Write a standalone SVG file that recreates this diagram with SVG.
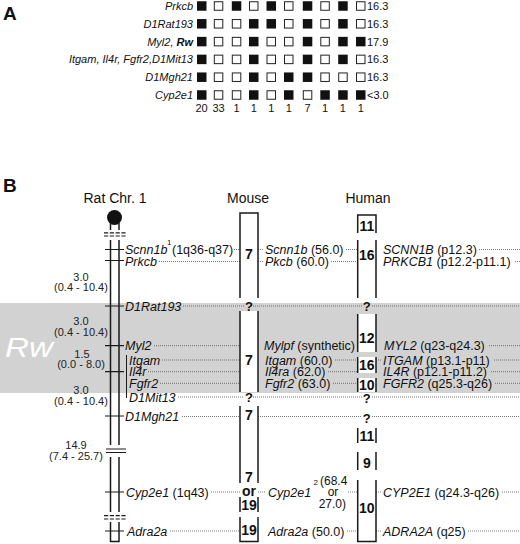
<svg xmlns="http://www.w3.org/2000/svg" width="520" height="544" viewBox="0 0 520 544">
<style>
text{font-family:"Liberation Sans",Arial,sans-serif;fill:#111}
.i{font-style:italic}
.a{font-size:11px}
.ar{font-size:11px;font-style:italic;text-anchor:end}
.m{font-size:12.5px}
.d{font-size:11px;text-anchor:middle;fill:#222}
.n{font-size:14px;font-weight:bold;text-anchor:middle}
.q{font-size:13px;font-weight:bold;text-anchor:middle}
.h{font-size:14px;text-anchor:middle}
.sup{font-size:8px}
.f{fill:#111}
.o{fill:#fff;stroke:#222;stroke-width:1}
.dot{stroke:#555;stroke-width:0.8;stroke-dasharray:1 1;fill:none}
.ln{stroke:#1a1a1a;stroke-width:1.5;fill:none}
.tk{stroke:#1a1a1a;stroke-width:1.2;fill:none}
.dash{stroke:#1a1a1a;stroke-width:1.2;stroke-dasharray:4.2 1.6;fill:none}
.box{fill:#fff;stroke:none}
</style>

<!-- Panel A -->
<g id="panelA">
<text x="3" y="20" style="font-size:19px;font-weight:bold">A</text>
<g id="rowA1">
<text x="193" y="10" class="ar">Prkcb</text>
<rect class="f" x="197" y="1.25" width="9.5" height="9.5"/><rect class="o" x="214.3" y="1.75" width="8.5" height="8.5"/><rect class="f" x="231.8" y="1.25" width="9.5" height="9.5"/><rect class="o" x="249.5" y="1.75" width="8.5" height="8.5"/><rect class="f" x="266.5" y="1.25" width="9.5" height="9.5"/><rect class="o" x="284.5" y="1.75" width="8.5" height="8.5"/><rect class="f" x="302.8" y="1.25" width="9.5" height="9.5"/><rect class="o" x="320.8" y="1.75" width="8.5" height="8.5"/><rect class="f" x="338.2" y="1.25" width="9.5" height="9.5"/><rect class="o" x="356.5" y="1.75" width="8.5" height="8.5"/>
<text x="367" y="10" class="a">16.3</text>
</g>
<g id="rowA2">
<text x="193" y="27.8" class="ar">D1Rat193</text>
<rect class="f" x="197" y="19.05" width="9.5" height="9.5"/><rect class="o" x="214.3" y="19.55" width="8.5" height="8.5"/><rect class="o" x="232.3" y="19.55" width="8.5" height="8.5"/><rect class="f" x="249" y="19.05" width="9.5" height="9.5"/><rect class="f" x="266.5" y="19.05" width="9.5" height="9.5"/><rect class="o" x="284.5" y="19.55" width="8.5" height="8.5"/><rect class="f" x="302.8" y="19.05" width="9.5" height="9.5"/><rect class="o" x="320.8" y="19.55" width="8.5" height="8.5"/><rect class="f" x="338.2" y="19.05" width="9.5" height="9.5"/><rect class="o" x="356.5" y="19.55" width="8.5" height="8.5"/>
<text x="367" y="27.8" class="a">16.3</text>
</g>
<g id="rowA3">
<text x="193" y="45.6" class="ar">Myl2, <tspan style="font-weight:bold">Rw</tspan></text>
<rect class="f" x="197" y="36.85" width="9.5" height="9.5"/><rect class="o" x="214.3" y="37.35" width="8.5" height="8.5"/><rect class="o" x="232.3" y="37.35" width="8.5" height="8.5"/><rect class="f" x="249" y="36.85" width="9.5" height="9.5"/><rect class="o" x="267" y="37.35" width="8.5" height="8.5"/><rect class="o" x="284.5" y="37.35" width="8.5" height="8.5"/><rect class="f" x="302.8" y="36.85" width="9.5" height="9.5"/><rect class="o" x="320.8" y="37.35" width="8.5" height="8.5"/><rect class="f" x="338.2" y="36.85" width="9.5" height="9.5"/><rect class="f" x="356" y="36.85" width="9.5" height="9.5"/>
<text x="367" y="45.6" class="a">17.9</text>
</g>
<g id="rowA4">
<text x="193" y="63.4" class="ar">Itgam, Il4r, Fgfr2,D1Mit13</text>
<rect class="f" x="197" y="54.65" width="9.5" height="9.5"/><rect class="o" x="214.3" y="55.15" width="8.5" height="8.5"/><rect class="o" x="232.3" y="55.15" width="8.5" height="8.5"/><rect class="f" x="249" y="54.65" width="9.5" height="9.5"/><rect class="o" x="267" y="55.15" width="8.5" height="8.5"/><rect class="o" x="284.5" y="55.15" width="8.5" height="8.5"/><rect class="f" x="302.8" y="54.65" width="9.5" height="9.5"/><rect class="o" x="320.8" y="55.15" width="8.5" height="8.5"/><rect class="f" x="338.2" y="54.65" width="9.5" height="9.5"/><rect class="o" x="356.5" y="55.15" width="8.5" height="8.5"/>
<text x="367" y="63.4" class="a">16.3</text>
</g>
<g id="rowA5">
<text x="193" y="81.2" class="ar">D1Mgh21</text>
<rect class="f" x="197" y="72.45" width="9.5" height="9.5"/><rect class="o" x="214.3" y="72.95" width="8.5" height="8.5"/><rect class="o" x="232.3" y="72.95" width="8.5" height="8.5"/><rect class="f" x="249" y="72.45" width="9.5" height="9.5"/><rect class="o" x="267" y="72.95" width="8.5" height="8.5"/><rect class="f" x="284" y="72.45" width="9.5" height="9.5"/><rect class="f" x="302.8" y="72.45" width="9.5" height="9.5"/><rect class="o" x="320.8" y="72.95" width="8.5" height="8.5"/><rect class="o" x="338.7" y="72.95" width="8.5" height="8.5"/><rect class="o" x="356.5" y="72.95" width="8.5" height="8.5"/>
<text x="367" y="81.2" class="a">16.3</text>
</g>
<g id="rowA6">
<text x="193" y="99" class="ar">Cyp2e1</text>
<rect class="f" x="197" y="90.25" width="9.5" height="9.5"/><rect class="o" x="214.3" y="90.75" width="8.5" height="8.5"/><rect class="o" x="232.3" y="90.75" width="8.5" height="8.5"/><rect class="f" x="249" y="90.25" width="9.5" height="9.5"/><rect class="o" x="267" y="90.75" width="8.5" height="8.5"/><rect class="f" x="284" y="90.25" width="9.5" height="9.5"/><rect class="o" x="303.3" y="90.75" width="8.5" height="8.5"/><rect class="f" x="320.3" y="90.25" width="9.5" height="9.5"/><rect class="f" x="338.2" y="90.25" width="9.5" height="9.5"/><rect class="f" x="356" y="90.25" width="9.5" height="9.5"/>
<text x="367" y="99" class="a">&lt;3.0</text>
</g>
<g id="counts">
<text x="201.5" y="111.5" text-anchor="middle" class="a">20</text><text x="218.5" y="111.5" text-anchor="middle" class="a">33</text><text x="236.5" y="111.5" text-anchor="middle" class="a">1</text><text x="253.7" y="111.5" text-anchor="middle" class="a">1</text><text x="271.2" y="111.5" text-anchor="middle" class="a">1</text><text x="288.7" y="111.5" text-anchor="middle" class="a">1</text><text x="307.5" y="111.5" text-anchor="middle" class="a">7</text><text x="325" y="111.5" text-anchor="middle" class="a">1</text><text x="342.9" y="111.5" text-anchor="middle" class="a">1</text><text x="360.7" y="111.5" text-anchor="middle" class="a">1</text>
</g>
</g>

<!-- Panel B -->
<text x="3" y="191.5" style="font-size:19px;font-weight:bold">B</text>
<rect id="rwband" x="0" y="303" width="520" height="90" fill="#d2d2d2"/>
<text x="5" y="357" class="i" style="font-size:28px;fill:#fff" textLength="48" lengthAdjust="spacingAndGlyphs">Rw</text>

<text x="115" y="202.5" class="h">Rat Chr. 1</text>
<text x="248" y="202.5" class="h">Mouse</text>
<text x="368" y="202.5" class="h">Human</text>

<!-- connectors -->
<g id="connectors" class="dot">
<path d="M234 249.5H240M258 249.5H264M346 249.5H357.7M479 249.5H520"/>
<path d="M159 261.5H240M258 261.5H264M331 261.5H357.7M515 261.5H520"/>
<path d="M183 306H244M253 306H362M372 306H520"/>
<path d="M154 345.7H240M489 345.7H520"/>
<path d="M162 360H240M335 360H357.7M376 360H382M494 360H520"/>
<path d="M148 371.7H240M328 371.7H357.7M491 371.7H520"/>
<path d="M160 383.3H240M333 383.3H357.7M495 383.3H520"/>
<path d="M178 397H244M253 397H362M372 397H520"/>
<path d="M182 416.5H240M258 416.5H362M372 416.5H520"/>
<path d="M211 492H240M258 492H266M348 492H357.7M376 492H382M502 492H520"/>
<path d="M170 531H240M347 531H357.7M376 531H382M468 531H520"/>
</g>

<!-- Rat chromosome -->
<g id="ratchr">
<circle cx="114.5" cy="217.5" r="7.5" fill="#111"/>
<path class="ln" d="M110.5 223V230M119 223V230"/>
<path class="dash" d="M104 232.8H126M104 236H126"/>
<path class="ln" d="M110.5 240V445M119 240V445"/>
<path class="tk" d="M106 449H126M106 452.5H126"/>
<path class="ln" d="M110.5 457V512M119 457V512"/>
<path class="dash" d="M104 515.7H126M104 519H126"/>
<path class="ln" d="M110.5 522V541.5H119V522"/>
<path class="tk" d="M105 249.5H124M105 260.5H124M105 306H124M105 345.7H124M105 371.7H124M105 416H124M105 492H124M105 531H124"/>
<path class="tk" style="stroke-width:1" d="M126.5 355V398"/>
</g>

<g id="ratlabels">
<text x="125" y="254" class="m"><tspan class="i">Scnn1b</tspan></text>
<text x="167" y="245" class="sup">1</text>
<text x="172" y="254" class="m">(1q36-q37)</text>
<text x="125" y="266" class="m i">Prkcb</text>
<text x="125" y="310.5" class="m i">D1Rat193</text>
<text x="125" y="350" class="m i">Myl2</text>
<text x="129" y="364.5" class="m i">Itgam</text>
<text x="129" y="376" class="m i">Il4r</text>
<text x="129" y="387.8" class="m i">Fgfr2</text>
<text x="129" y="401.5" class="m i">D1Mit13</text>
<text x="125" y="420.5" class="m i">D1Mgh21</text>
<text x="126" y="496.5" class="m"><tspan class="i">Cyp2e1</tspan> (1q43)</text>
<text x="127" y="535.5" class="m i">Adra2a</text>
</g>

<g id="distances">
<text x="81" y="280.5" class="d">3.0</text><text x="81" y="291" class="d">(0.4 - 10.4)</text>
<text x="81" y="325" class="d">3.0</text><text x="81" y="335.5" class="d">(0.4 - 10.4)</text>
<text x="82" y="357.5" class="d">1.5</text><text x="81" y="367.5" class="d">(0.0 - 8.0)</text>
<text x="81" y="394" class="d">3.0</text><text x="81" y="404.5" class="d">(0.4 - 10.4)</text>
<text x="76" y="449" class="d">14.9</text><text x="76" y="459.5" class="d">(7.4 - 25.7)</text>
</g>

<!-- Mouse column -->
<g id="mouse">
<rect class="box" x="240" y="213" width="18" height="85"/>
<path class="ln" d="M240 298V213H258V298"/>
<text x="249" y="259" class="n">7</text>
<text x="249" y="310.5" class="q">?</text>
<rect class="box" x="240" y="311" width="18" height="81"/>
<path class="ln" d="M240 311V392M258 311V392"/>
<text x="249" y="365" class="n">7</text>
<text x="249" y="402" class="q">?</text>
<rect class="box" x="240" y="406" width="18" height="77"/>
<path class="ln" d="M240 406V483M258 406V483"/>
<text x="249" y="420" class="n">7</text>
<text x="249" y="482" class="n">7</text>
<text x="249" y="496" class="n">or</text>
<path class="ln" d="M240 497V512M258 497V512"/>
<text x="249" y="510" class="n">19</text>
<path class="ln" d="M240 517V541.5H258V517"/>
<text x="249" y="535" class="n">19</text>
</g>

<g id="mouselabels">
<text x="265" y="254" class="m"><tspan class="i">Scnn1b</tspan> (56.0)</text>
<text x="265" y="266" class="m"><tspan class="i">Pkcb</tspan> (60.0)</text>
<text x="264" y="350" class="m"><tspan class="i">Mylpf</tspan> (synthetic)</text>
<text x="265" y="364.5" class="m"><tspan class="i">Itgam</tspan> (60.0)</text>
<text x="265" y="376" class="m"><tspan class="i">Il4ra</tspan> (62.0)</text>
<text x="265" y="388" class="m"><tspan class="i">Fgfr2</tspan> (63.0)</text>
<text x="268" y="496.5" class="m i">Cyp2e1</text>
<text x="313.5" y="485" class="sup">2</text>
<text x="320" y="485" class="m" style="font-size:12px">(68.4</text>
<text x="333" y="496" class="m" text-anchor="middle" style="font-size:12px">or</text>
<text x="346" y="507.5" class="m" text-anchor="end" style="font-size:12px">27.0)</text>
<text x="268" y="535.5" class="m"><tspan class="i">Adra2a</tspan> (50.0)</text>
</g>

<!-- Human column -->
<g id="human">
<rect class="box" x="357.7" y="215" width="18.3" height="18"/>
<path class="ln" d="M357.7 233V215H376V233"/>
<text x="366.8" y="231" class="n">11</text>
<rect class="box" x="357.7" y="240" width="18.3" height="58"/>
<path class="ln" d="M357.7 240V298M376 240V298"/>
<text x="366.8" y="260" class="n">16</text>
<text x="366.8" y="311" class="q">?</text>
<rect class="box" x="357.7" y="314" width="18.3" height="38"/>
<path class="ln" d="M357.7 314V352M376 314V352"/>
<text x="366.8" y="343" class="n">12</text>
<rect class="box" x="357.7" y="357" width="18.3" height="16"/>
<path class="ln" d="M357.7 357V373M376 357V373"/>
<text x="366.8" y="370" class="n">16</text>
<rect class="box" x="357.7" y="378" width="18.3" height="14"/>
<path class="ln" d="M357.7 378V392M376 378V392"/>
<text x="366.8" y="390" class="n">10</text>
<text x="366.8" y="402.5" class="q">?</text>
<text x="366.8" y="423" class="q">?</text>
<path class="ln" d="M357.7 428V443M376 428V443"/>
<text x="366.8" y="441" class="n">11</text>
<path class="ln" d="M357.7 452V470M376 452V470"/>
<text x="366.8" y="468" class="n">9</text>
<path class="ln" d="M357.7 480V541.5H376V480"/>
<text x="366.8" y="513" class="n">10</text>
</g>

<g id="humanlabels">
<text x="383" y="254" class="m"><tspan class="i">SCNN1B</tspan> (p12.3)</text>
<text x="383" y="266" class="m"><tspan class="i">PRKCB1</tspan> (p12.2-p11.1)</text>
<text x="384" y="350" class="m"><tspan class="i">MYL2</tspan> (q23-q24.3)</text>
<text x="383" y="364.5" class="m"><tspan class="i">ITGAM</tspan> (p13.1-p11)</text>
<text x="383" y="376" class="m"><tspan class="i">IL4R</tspan> (p12.1-p11.2)</text>
<text x="383" y="388" class="m"><tspan class="i">FGFR2</tspan> (q25.3-q26)</text>
<text x="383" y="496.5" class="m"><tspan class="i">CYP2E1</tspan> (q24.3-q26)</text>
<text x="383" y="535.5" class="m"><tspan class="i">ADRA2A</tspan> (q25)</text>
</g>
</svg>
